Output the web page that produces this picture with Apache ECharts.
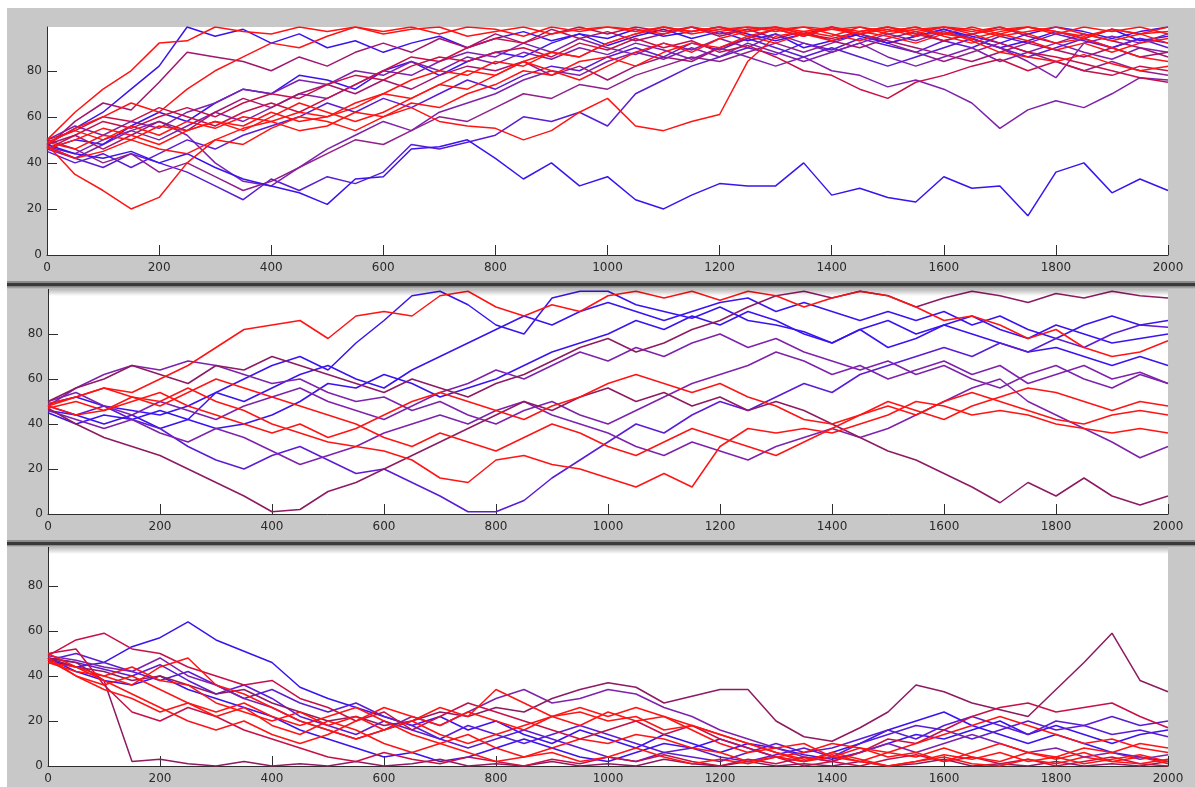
<!DOCTYPE html>
<html>
<head>
<meta charset="utf-8">
<script src="https://cdn.jsdelivr.net/npm/echarts@6/dist/echarts.min.js"></script>
<style>
  html, body { margin: 0; padding: 0; background: #ffffff; }
  #frame { position: absolute; left: 7px; top: 8px; width: 1188px; height: 779px; background: #c8c8c8; }
  #chart { position: absolute; left: 0; top: 0; width: 1195px; height: 787px; }
</style>
</head>
<body>
<div id="frame"></div>
<div id="chart"></div>
<script>
// shared x sample positions (step index of the walk)
const xs = [0,50,100,150,200,250,300,350,400,450, 500,550,600,650,700,750,800,850,900,950,
            1000,1050,1100,1150,1200,1250,1300,1350,1400,1450, 1500,1550,1600,1650,1700,1750,1800,1850,1900,1950, 2000];
const xTicks = [0,200,400,600,800,1000,1200,1400,1600,1800,2000];
const yTicks = [0,20,40,60,80];

// ---------- panel 1 ----------
const p1_a = [48,35,28,20,25,40,50,55,58,62, 60,66,70,68,74,80,78,84,88,86, 92,96,99,97,99,95,98,99,96,93, 97,99,95,92,96,99,97,94,98,96, 99];
const p1_b = [48,44,42,45,40,44,38,33,30,27, 22,33,34,46,47,50,42,33,40,30, 34,24,20,26,31,30,30,40,26,29, 25,23,34,29,30,17,36,40,27,33, 28];
const p1_c = [47,42,38,44,40,36,30,24,33,28, 34,31,36,48,46,49,52,60,58,62, 56,70,76,82,86,90,87,92,89,94, 91,88,93,90,95,92,96,93,90,94, 92];
const p1_d = [50,56,52,58,55,62,66,72,70,76, 74,80,78,84,80,86,83,88,85,90, 87,92,89,85,90,86,82,86,80,78, 73,76,72,66,55,63,67,64,70,77, 76];
const p1_e = [46,52,58,55,60,64,60,66,70,68, 74,78,76,82,86,84,88,90,86,92, 89,94,90,93,88,91,86,80,78,72, 68,75,78,82,85,80,84,80,78,82, 80];
const p1_f = [49,54,50,56,52,58,55,60,58,54, 56,62,60,64,58,56,55,50,54,62, 68,56,54,58,61,84,95,97,99,96, 98,95,97,93,88,86,84,87,83,80, 82];
const p1_g = [50,62,72,80,92,93,99,97,96,99, 97,99,96,98,99,95,97,99,96,98, 99,97,99,96,98,99,97,99,98,96, 99,97,99,96,98,99,97,95,98,96, 97];
const p1_h = [48,55,62,72,82,99,95,98,92,96, 90,93,88,92,95,90,94,97,93,96, 91,95,98,94,97,93,96,90,93,96, 92,95,98,94,90,93,97,94,98,93, 95];
const p1_i = [47,58,66,63,75,88,86,84,80,86, 82,88,92,88,94,90,96,92,98,94, 97,93,96,99,95,98,94,97,93,90, 94,97,93,96,99,95,92,96,93,90, 86];
const p1_j = [46,42,48,54,58,52,40,32,30,38, 46,52,58,54,62,66,70,76,80,78, 84,88,85,90,86,92,88,84,88,92, 86,82,86,90,84,88,92,88,85,90, 88];
const p1_k = [49,46,52,50,56,54,58,56,62,58, 60,64,70,76,80,78,84,82,88,86, 92,96,99,97,99,97,99,96,98,99, 96,98,99,97,99,96,92,94,90,86, 84];
const p1_l = [45,40,44,38,44,50,46,52,56,60, 66,62,68,64,70,76,72,78,82,80, 86,90,86,92,89,94,90,86,90,86, 82,86,90,94,90,86,90,94,90,94, 90];
const p1_m = [47,42,45,50,46,44,50,48,55,60, 58,54,60,66,64,70,74,80,78,84, 86,82,88,92,90,95,92,96,93,97, 95,92,96,99,96,93,89,92,88,92, 94];
const p1_n = [50,46,40,44,36,40,34,28,32,38, 44,50,48,54,60,58,64,70,68,74, 72,78,82,86,84,88,92,88,92,96, 92,88,84,88,92,88,84,80,84,80, 78];
const p1_o = [48,55,60,66,62,72,80,86,92,90, 95,99,97,99,96,99,98,95,99,97, 99,98,96,99,97,99,98,95,99,97, 99,96,99,98,95,97,99,96,93,96, 92];
const p1_p = [46,50,48,56,62,58,66,72,70,78, 76,72,80,84,78,84,88,86,92,96, 94,98,95,97,99,96,93,96,99,95, 92,95,98,95,92,96,99,97,94,97, 99];
const p1_q = [50,54,60,58,64,60,56,62,66,62, 68,74,80,86,84,90,94,92,96,99, 96,99,97,99,96,98,99,96,94,97, 99,96,93,96,92,88,86,83,80,77, 75];
const p1_r = [47,44,50,54,50,56,62,58,64,70, 68,74,80,78,84,88,86,92,88,94, 90,87,92,89,94,90,96,92,88,92, 96,93,97,94,90,84,77,92,95,92, 96];
const p1_s = [48,52,46,52,58,54,62,68,64,70, 74,70,76,72,78,82,80,84,78,82, 76,82,86,84,90,94,98,95,99,96, 93,90,87,84,88,92,89,86,90,86, 88];
const p1_t = [46,50,55,52,48,54,58,54,60,66, 62,58,62,68,74,72,78,84,80,76, 82,88,92,88,94,97,99,97,95,99, 97,99,96,94,97,99,96,99,97,99, 96];

// ---------- panel 2 ----------
const p2_a = [48,52,56,54,60,66,74,82,84,86, 78,88,90,88,97,99,92,88,93,90, 97,99,96,99,95,99,97,92,96,99, 97,92,86,88,84,78,82,74,70,72, 77];
const p2_b = [46,44,40,44,38,42,54,60,66,70, 64,76,86,97,99,93,84,80,96,99, 99,93,90,87,92,86,84,81,76,82, 86,80,84,88,82,78,84,80,76,78, 80];
const p2_c = [50,56,60,66,62,58,66,64,70,66, 62,58,54,60,56,52,58,62,68,74, 78,72,76,82,86,92,97,99,96,99, 97,92,96,99,97,94,98,96,99,97, 96];
const p2_d = [48,56,62,66,64,68,66,62,58,60, 54,50,52,46,50,44,40,46,50,44, 40,46,52,58,62,66,72,68,62,66, 60,64,68,62,66,58,62,66,60,63, 58];
const p2_e = [45,40,44,42,46,42,38,40,44,50, 58,56,62,58,52,56,60,66,72,76, 80,86,82,88,84,90,86,80,76,82, 74,78,84,80,76,72,74,70,66,70, 66];
const p2_f = [48,44,46,52,50,56,50,46,40,36, 32,30,28,24,16,14,24,26,22,20, 16,12,18,12,30,38,36,38,36,40, 44,50,48,44,46,44,40,38,36,38, 36];
const p2_g = [49,52,56,52,48,54,60,56,52,48, 44,40,34,30,36,32,28,34,40,36, 30,26,32,38,34,30,26,32,38,44, 48,44,50,54,50,46,42,40,44,46, 44];
const p2_h = [46,42,38,42,36,32,38,34,28,22, 26,30,36,40,44,40,46,50,44,40, 36,30,26,32,28,24,30,34,38,34, 38,44,50,56,60,50,44,38,32,25, 30];
const p2_i = [47,40,34,30,26,20,14,8,1,2, 10,14,20,26,32,38,44,50,46,52, 56,50,54,48,52,46,50,46,40,34, 28,24,18,12,5,14,8,16,8,4, 8];
const p2_j = [48,44,48,42,38,30,24,20,26,30, 24,18,20,14,8,1,1,6,16,24, 32,40,36,44,50,46,52,58,54,62, 66,70,74,70,76,72,78,74,80,84, 83];
const p2_k = [50,54,48,44,50,46,42,48,52,56, 50,46,42,48,54,58,64,60,66,72, 68,74,70,76,80,74,78,72,68,64, 68,62,66,60,56,62,66,60,56,62, 58];
const p2_l = [47,50,46,50,54,48,44,40,36,40, 34,38,44,50,54,50,46,42,48,52, 58,62,58,54,58,52,48,42,40,44, 50,46,42,48,52,56,54,50,46,50, 48];
const p2_m = [49,52,48,46,44,48,54,50,56,62, 66,60,56,64,70,76,82,88,84,90, 94,90,86,90,94,96,90,94,90,86, 90,86,90,84,88,82,78,84,88,84, 86];

// ---------- panel 3 ----------
const p3_a = [47,44,46,53,57,64,56,51,46,35, 30,26,22,18,22,16,20,14,10,16, 12,8,14,10,6,10,8,5,3,6, 10,14,12,16,20,14,18,14,10,14, 16];
const p3_b = [48,44,42,38,40,36,32,34,28,24, 20,22,18,20,24,22,26,24,30,34, 37,35,28,31,34,34,20,13,11,17, 24,36,33,28,25,22,34,46,59,38, 33];
const p3_c = [49,56,59,52,50,44,40,36,38,30, 26,20,24,16,22,28,24,20,16,12, 16,20,14,18,12,8,4,0,2,6, 12,10,16,22,26,28,24,26,28,22, 17];
const p3_d = [48,46,38,2,3,1,0,2,0,1, 0,2,0,1,3,0,1,0,2,0, 1,0,3,1,0,2,0,1,0,2, 0,1,3,0,1,0,2,0,1,0, 2];
const p3_e = [46,42,40,44,38,36,28,24,20,24, 18,22,16,20,26,22,34,28,22,24, 20,22,16,18,14,10,6,3,5,2, 0,2,4,1,0,3,1,4,2,1, 3];
const p3_f = [48,46,43,40,45,38,32,36,30,22, 18,14,20,16,12,18,14,10,14,18, 14,10,6,8,4,2,5,8,4,10, 14,18,16,12,16,20,16,18,14,16, 13];
const p3_g = [47,40,34,30,24,28,22,26,18,14, 20,16,10,6,10,14,8,4,6,2, 4,8,4,1,3,1,4,2,6,3, 0,2,5,3,6,2,4,1,3,5, 2];
const p3_h = [49,47,44,42,48,40,36,30,26,20, 16,12,16,22,18,24,30,34,28,30, 34,32,26,22,16,12,8,4,2,6, 10,6,10,14,10,6,8,4,6,3, 5];
const p3_i = [50,44,38,32,26,20,16,20,14,10, 14,20,26,22,18,24,20,16,22,18, 24,20,22,16,10,6,8,10,4,2, 6,4,8,4,2,6,3,6,2,4, 1];
const p3_j = [48,42,38,36,40,34,30,26,22,16, 12,8,4,6,2,4,8,12,8,4, 2,6,10,8,12,8,4,2,6,10, 16,20,24,18,14,10,14,10,6,4, 2];
const p3_k = [46,44,40,36,44,48,36,32,26,20, 16,12,16,20,14,10,14,18,22,26, 22,26,22,18,14,10,6,2,4,8, 6,10,14,18,22,18,14,10,12,8, 6];
const p3_l = [50,52,36,24,20,26,22,16,12,8, 4,2,6,3,1,4,2,0,3,1, 4,2,5,2,0,3,1,4,2,0, 3,5,2,4,1,3,0,2,4,1, 0];
const p3_m = [47,50,46,42,38,42,36,30,34,28, 24,28,22,18,12,8,12,16,12,8, 4,2,6,4,2,6,10,6,8,12, 16,12,18,22,18,14,20,18,22,18, 20];
const p3_n = [48,40,36,40,34,28,24,28,22,18, 22,26,20,14,10,6,2,4,8,12, 10,14,12,8,6,2,4,6,10,8, 4,6,2,6,10,6,4,8,6,10, 8];

// ---------- styles (kept apart from data) ----------
const RED = '#ff1414', CRIM = '#c81048', RPUR = '#a21670', MAROON = '#8e1a62',
      PUR = '#7e22ae', BPUR = '#5a1cd4', BLUE = '#3a14f0';

const panel1 = [
  [p1_c, BPUR], [p1_j, PUR], [p1_n, '#90208c'], [p1_l, BPUR], [p1_h, BLUE], [p1_p, BLUE],
  [p1_r, PUR], [p1_d, PUR], [p1_i, RPUR], [p1_s, RPUR], [p1_e, CRIM], [p1_q, CRIM],
  [p1_b, BLUE], [p1_k, RED], [p1_m, RED], [p1_o, RED], [p1_t, RED], [p1_g, RED], [p1_f, RED], [p1_a, RED]
];
const panel2 = [
  [p2_b, BLUE], [p2_e, BLUE], [p2_m, BLUE], [p2_j, BPUR], [p2_d, PUR], [p2_h, PUR], [p2_k, PUR],
  [p2_i, MAROON], [p2_c, MAROON], [p2_l, RED], [p2_g, RED], [p2_f, RED], [p2_a, RED]
];
const panel3 = [
  [p3_j, BLUE], [p3_a, BLUE], [p3_f, BPUR], [p3_m, BPUR], [p3_h, PUR], [p3_d, MAROON],
  [p3_b, MAROON], [p3_l, CRIM], [p3_c, CRIM], [p3_e, RED], [p3_g, RED], [p3_i, RED], [p3_k, RED], [p3_n, RED]
];

function pairs(vals) { return vals.map((v, i) => [xs[i], v]); }

const panels = [
  { lines: panel1, grid: { left: 47, top: 27, width: 1121, height: 228 }, ymax: 99 },
  { lines: panel2, grid: { left: 48, top: 289, width: 1120, height: 225 }, ymax: 100 },
  { lines: panel3, grid: { left: 48, top: 547, width: 1120, height: 219 }, ymax: 97.3 }
];

const AX = '#2e2e2e';
const labelFont = { color: '#2a2a2a', fontSize: 12, fontFamily: 'DejaVu Sans' };
const plain = v => String(v);

const option = {
  animation: false,
  backgroundColor: 'transparent',
  grid: panels.map(p => Object.assign({ show: true, backgroundColor: '#ffffff', borderWidth: 0 }, p.grid)),
  xAxis: panels.map((p, i) => ({
    gridIndex: i, type: 'value', min: 0, max: 2000, interval: 200,
    axisLine: { show: true, onZero: false, lineStyle: { color: AX, width: 1 } },
    axisTick: { show: true, inside: true, length: 10, customValues: xTicks, lineStyle: { color: AX } },
    axisLabel: Object.assign({ margin: 7, customValues: xTicks, formatter: plain }, labelFont),
    splitLine: { show: false }
  })),
  yAxis: panels.map((p, i) => ({
    gridIndex: i, type: 'value', min: 0, max: p.ymax,
    axisLine: { show: true, onZero: false, lineStyle: { color: AX, width: 1 } },
    axisTick: { show: true, inside: true, length: 10, customValues: yTicks, lineStyle: { color: AX } },
    axisLabel: Object.assign({ margin: 5, customValues: yTicks, formatter: plain }, labelFont),
    splitLine: { show: false }
  })),
  series: [],
  graphic: { elements: [
    { type: 'rect', z: 100, shape: { x: 7, y: 281, width: 1188, height: 2 }, style: { fill: '#8c8c8c' } },
    { type: 'rect', z: 100, shape: { x: 7, y: 283, width: 1188, height: 3 }, style: { fill: '#3a3a3a' } },
    { type: 'rect', z: 100, shape: { x: 7, y: 286, width: 1188, height: 3 }, style: { fill: { type: 'linear', x: 0, y: 0, x2: 0, y2: 1, colorStops: [{ offset: 0, color: '#7a7a7a' }, { offset: 1, color: '#c8c8c8' }] } } },
    { type: 'rect', z: 100, shape: { x: 48, y: 289, width: 1120, height: 7 }, style: { fill: { type: 'linear', x: 0, y: 0, x2: 0, y2: 1, colorStops: [{ offset: 0, color: 'rgba(0,0,0,0.28)' }, { offset: 1, color: 'rgba(0,0,0,0)' }] } } },
    { type: 'rect', z: 100, shape: { x: 7, y: 540, width: 1188, height: 2 }, style: { fill: '#8c8c8c' } },
    { type: 'rect', z: 100, shape: { x: 7, y: 542, width: 1188, height: 3 }, style: { fill: '#3a3a3a' } },
    { type: 'rect', z: 100, shape: { x: 7, y: 545, width: 1188, height: 2 }, style: { fill: { type: 'linear', x: 0, y: 0, x2: 0, y2: 1, colorStops: [{ offset: 0, color: '#7a7a7a' }, { offset: 1, color: '#c8c8c8' }] } } },
    { type: 'rect', z: 100, shape: { x: 48, y: 547, width: 1120, height: 7 }, style: { fill: { type: 'linear', x: 0, y: 0, x2: 0, y2: 1, colorStops: [{ offset: 0, color: 'rgba(0,0,0,0.28)' }, { offset: 1, color: 'rgba(0,0,0,0)' }] } } }
  ] }
};

panels.forEach((p, gi) => {
  p.lines.forEach(([vals, color]) => {
    option.series.push({
      type: 'line', xAxisIndex: gi, yAxisIndex: gi,
      data: pairs(vals), showSymbol: false, symbol: 'none', silent: true,
      lineStyle: { width: 1.5, color: color }, clip: true
    });
  });
});

const chart = echarts.init(document.getElementById('chart'), null, { renderer: 'canvas' });
chart.setOption(option);
</script>
</body>
</html>
